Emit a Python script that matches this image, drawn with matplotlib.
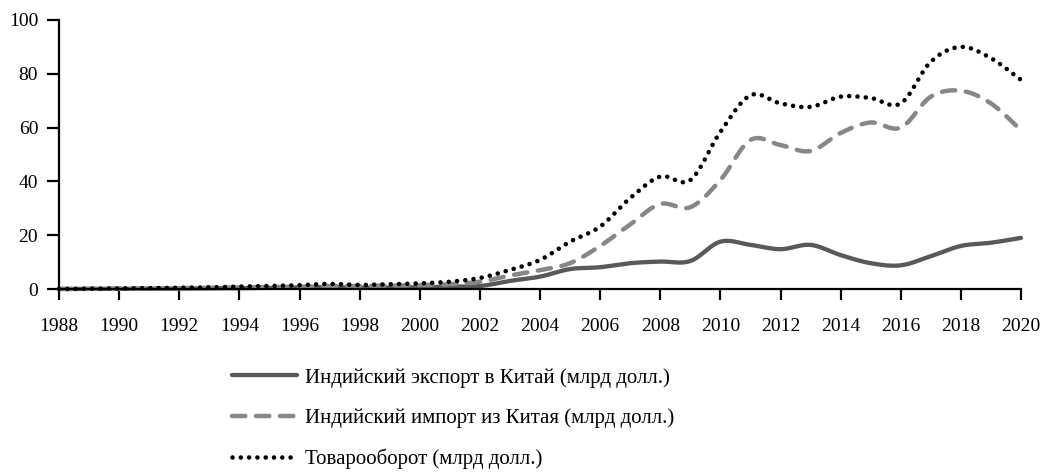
import matplotlib
matplotlib.use("Agg")
import matplotlib.pyplot as plt
import numpy as np

plt.rcParams['font.family'] = ['Liberation Serif', 'DejaVu Serif']

years = list(range(1988, 2021))

# Индийский экспорт в Китай (млрд долл.)
export = [0.0, 0.05, 0.1, 0.1, 0.15, 0.2, 0.3, 0.4, 0.6, 0.7, 0.5, 0.5,
          0.7, 0.9, 1.1, 3.0, 4.6, 7.4, 8.1, 9.6, 10.2, 10.4, 17.6, 16.4,
          14.8, 16.4, 12.6, 9.6, 8.8, 12.2, 16.0, 17.2, 19.0]
# Индийский импорт из Китая (млрд долл.)
imports = [0.0, 0.05, 0.1, 0.2, 0.3, 0.4, 0.6, 0.7, 0.8, 1.1, 1.1, 1.3,
           1.4, 1.8, 2.7, 5.0, 7.0, 9.6, 16.0, 24.0, 31.6, 30.4, 40.5, 55.4,
           53.5, 51.3, 58.0, 61.9, 60.0, 71.5, 73.7, 69.0, 59.0]
# Товарооборот (млрд долл.)
total = [0.0, 0.1, 0.2, 0.3, 0.45, 0.6, 0.9, 1.1, 1.4, 1.9, 1.5, 1.8,
         2.1, 2.7, 4.1, 7.1, 10.8, 17.6, 23.2, 33.8, 41.8, 40.5, 58.4, 72.0,
         69.0, 67.7, 71.5, 71.0, 69.0, 84.5, 90.0, 85.8, 77.7]

labels = ['Индийский экспорт в Китай (млрд долл.)',
          'Индийский импорт из Китая (млрд долл.)',
          'Товарооборот (млрд долл.)']


def smooth(x, y, n=24):
    # Excel-style smoothed line (Catmull-Rom through the points)
    p = np.column_stack([x, y]).astype(float)
    p = np.vstack([p[0], p, p[-1]])
    xs, ys = [], []
    t = np.linspace(0, 1, n, endpoint=False)
    for i in range(1, len(p) - 2):
        p0, p1, p2, p3 = p[i - 1], p[i], p[i + 1], p[i + 2]
        c1 = p1 + (p2 - p0) / 6
        c2 = p2 - (p3 - p1) / 6
        b = ((1 - t) ** 3)[:, None] * p1 + (3 * (1 - t) ** 2 * t)[:, None] * c1 \
            + (3 * (1 - t) * t ** 2)[:, None] * c2 + (t ** 3)[:, None] * p2
        xs.extend(b[:, 0])
        ys.extend(b[:, 1])
    xs.append(p[-2][0])
    ys.append(p[-2][1])
    return xs, ys


fig = plt.figure(figsize=(10.47, 4.73), dpi=100)
ax = fig.add_axes([59 / 1047, 1 - 289 / 473, (1021 - 59) / 1047, (289 - 20) / 473])

sx, sy = smooth(years, export)
ax.plot(sx, sy, color='#595959', lw=3.1, solid_capstyle='round', label=labels[0], clip_on=False)
sx, sy = smooth(years, imports)
ax.plot(sx, sy, color='#878787', lw=3.2, linestyle=(0, (3.0, 2.4)),
        dash_capstyle='round', label=labels[1], clip_on=False)
sx, sy = smooth(years, total)
ax.plot(sx, sy, color='black', lw=3.3, linestyle=(0, (0.01, 1.8)),
        dash_capstyle='round', label=labels[2], clip_on=False)

ax.set_xlim(1988, 2020)
ax.set_ylim(0, 100)
ax.set_xticks(range(1988, 2021, 2))
ax.set_yticks(range(0, 101, 20))
for s in ['top', 'right']:
    ax.spines[s].set_visible(False)
for s in ['left', 'bottom']:
    ax.spines[s].set_linewidth(1.6)
ax.tick_params(axis='x', length=8, width=1.6, pad=13, labelsize=14)
ax.tick_params(axis='y', length=9, width=1.6, pad=6, labelsize=14)

fig.legend(loc='upper left', bbox_to_anchor=(232 / 1047, 1 - 368 / 473),
           frameon=False, fontsize=15, handlelength=3.1, handletextpad=0.4,
           labelspacing=0.98, borderpad=0, borderaxespad=0)

fig.savefig('out.png', dpi=100)
